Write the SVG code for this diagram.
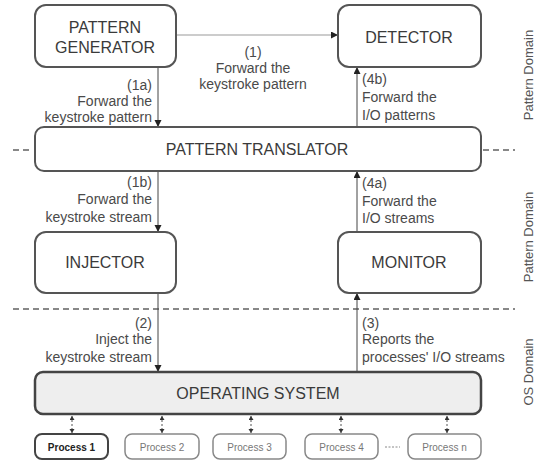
<svg xmlns="http://www.w3.org/2000/svg" width="543" height="462" viewBox="0 0 543 462">
<defs>
<style>
.box{fill:#fff;stroke:#555;stroke-width:2}
.os{fill:#eeeeee;stroke:#444;stroke-width:2.5}
.p1{fill:#fff;stroke:#444;stroke-width:2}
.pn{fill:#fff;stroke:#888;stroke-width:1.5}
.bt{font-family:"Liberation Sans",Arial,sans-serif;font-size:16px;fill:#3a3a3a;text-anchor:middle}
.pt{font-family:"Liberation Sans",Arial,sans-serif;font-size:10px;fill:#777;text-anchor:middle}
.pt1{font-family:"Liberation Sans",Arial,sans-serif;font-size:10px;fill:#222;font-weight:bold;text-anchor:middle}
.lb{font-family:"Liberation Sans",Arial,sans-serif;font-size:14px;fill:#4a4a4a}
.dom{font-family:"Liberation Sans",Arial,sans-serif;font-size:13px;fill:#555;text-anchor:middle}
.ln{stroke:#444;stroke-width:1;fill:none}
.sep{stroke:#888;stroke-width:2;stroke-dasharray:6,4;fill:none}
.pc{stroke:#555;stroke-width:1;stroke-dasharray:2,2;fill:none}
</style>
<marker id="ah" markerUnits="userSpaceOnUse" markerWidth="8" markerHeight="8" refX="7" refY="3.5" orient="auto">
<path d="M0,0 L7,3.5 L0,7 z" fill="#222"/>
</marker>
<marker id="sh" markerUnits="userSpaceOnUse" markerWidth="6" markerHeight="6" refX="4" refY="2.5" orient="auto-start-reverse">
<path d="M0,0 L4,2.5 L0,5 z" fill="#333"/>
</marker>
</defs>

<g id="separators">
<path class="sep" d="M13,150 H33"/>
<path class="sep" d="M483,150 H515"/>
<path class="sep" d="M13,309 H515"/>
</g>

<g id="connectors">
<path d="M176,35 H338" stroke="#bbb" stroke-width="1.5" fill="none" marker-end="url(#ah)"/>
<path class="ln" d="M158,67 V127" marker-end="url(#ah)"/>
<path class="ln" d="M158,171 V232" marker-end="url(#ah)"/>
<path class="ln" d="M158,293 V372" marker-end="url(#ah)"/>
<path class="ln" d="M357,127 V67" marker-end="url(#ah)"/>
<path class="ln" d="M357,232 V171" marker-end="url(#ah)"/>
<path class="ln" d="M357,372 V293" marker-end="url(#ah)"/>
<path class="pc" d="M72,416 V433" marker-start="url(#sh)" marker-end="url(#sh)"/>
<path class="pc" d="M162,416 V433" marker-start="url(#sh)" marker-end="url(#sh)"/>
<path class="pc" d="M251,416 V433" marker-start="url(#sh)" marker-end="url(#sh)"/>
<path class="pc" d="M341,416 V433" marker-start="url(#sh)" marker-end="url(#sh)"/>
<path class="pc" d="M447,416 V433" marker-start="url(#sh)" marker-end="url(#sh)"/>
<path d="M385,447 H400" stroke="#888" stroke-width="1" stroke-dasharray="2,1.5"/>
</g>

<g id="labels">
<text class="lb" x="253" y="57" text-anchor="middle">(1)</text>
<text class="lb" x="253" y="73" text-anchor="middle">Forward the</text>
<text class="lb" x="253" y="89" text-anchor="middle">keystroke pattern</text>
<text class="lb" x="152" y="90" text-anchor="end">(1a)</text>
<text class="lb" x="152" y="106" text-anchor="end">Forward the</text>
<text class="lb" x="152" y="122" text-anchor="end">keystroke pattern</text>
<text class="lb" x="362" y="84">(4b)</text>
<text class="lb" x="362" y="102">Forward the</text>
<text class="lb" x="362" y="120">I/O patterns</text>
<text class="lb" x="152" y="187" text-anchor="end">(1b)</text>
<text class="lb" x="152" y="204" text-anchor="end">Forward the</text>
<text class="lb" x="152" y="222" text-anchor="end">keystroke stream</text>
<text class="lb" x="362" y="188">(4a)</text>
<text class="lb" x="362" y="206">Forward the</text>
<text class="lb" x="362" y="223">I/O streams</text>
<text class="lb" x="152" y="328" text-anchor="end">(2)</text>
<text class="lb" x="152" y="344" text-anchor="end">Inject the</text>
<text class="lb" x="152" y="362" text-anchor="end">keystroke stream</text>
<text class="lb" x="362" y="328">(3)</text>
<text class="lb" x="362" y="344">Reports the</text>
<text class="lb" x="362" y="362">processes' I/O streams</text>
<text class="dom" transform="translate(533,75) rotate(-90)">Pattern Domain</text>
<text class="dom" transform="translate(533,237) rotate(-90)">Pattern Domain</text>
<text class="dom" transform="translate(533,372) rotate(-90)">OS Domain</text>
</g>

<g id="pattern-generator">
<rect class="box" x="35" y="5" width="141" height="62" rx="11"/>
<text class="bt" x="105" y="33">PATTERN</text>
<text class="bt" x="105" y="53">GENERATOR</text>
</g>
<g id="detector">
<rect class="box" x="338" y="5" width="143" height="62" rx="11"/>
<text class="bt" x="409" y="43">DETECTOR</text>
</g>
<g id="pattern-translator">
<rect class="box" x="35" y="127" width="446" height="44" rx="9"/>
<text class="bt" x="257" y="155">PATTERN TRANSLATOR</text>
</g>
<g id="injector">
<rect class="box" x="35" y="232" width="141" height="61" rx="11"/>
<text class="bt" x="105" y="268">INJECTOR</text>
</g>
<g id="monitor">
<rect class="box" x="338" y="232" width="143" height="61" rx="11"/>
<text class="bt" x="409" y="268">MONITOR</text>
</g>
<g id="operating-system">
<rect class="os" x="35" y="372" width="446" height="42" rx="8"/>
<text class="bt" x="258" y="399">OPERATING SYSTEM</text>
</g>
<g id="process-1">
<rect class="p1" x="35" y="434" width="73" height="25" rx="7"/>
<text class="pt1" x="71.5" y="451">Process 1</text>
</g>
<g id="process-2">
<rect class="pn" x="125" y="434" width="74" height="25" rx="7"/>
<text class="pt" x="162" y="451">Process 2</text>
</g>
<g id="process-3">
<rect class="pn" x="213" y="434" width="73" height="25" rx="7"/>
<text class="pt" x="249.5" y="451">Process 3</text>
</g>
<g id="process-4">
<rect class="pn" x="305" y="434" width="73" height="25" rx="7"/>
<text class="pt" x="341.5" y="451">Process 4</text>
</g>
<g id="process-n">
<rect class="pn" x="408" y="434" width="73" height="25" rx="7"/>
<text class="pt" x="444.5" y="451">Process n</text>
</g>
</svg>
